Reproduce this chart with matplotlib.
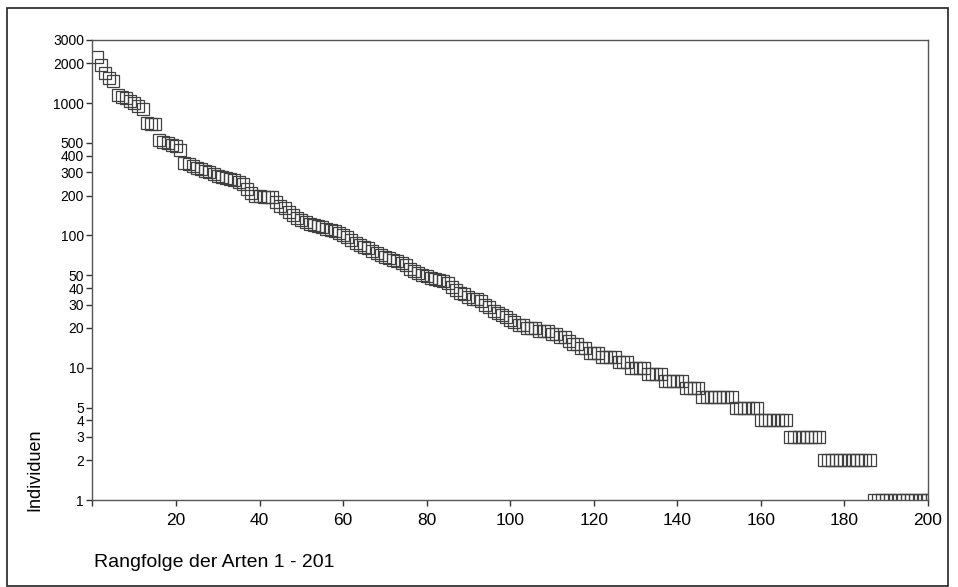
import matplotlib
matplotlib.use('Agg')
import matplotlib.pyplot as plt
from matplotlib.patches import Rectangle

plt.rcParams['font.family'] = ['Liberation Sans', 'DejaVu Sans']

# Individuen je Art, nach Rang geordnet (Rang 1 - 201)
individuen = [
    2250, 1950, 1700, 1550, 1480, 1150, 1120, 1090, 1040, 1000,
    950, 900, 710, 700, 690, 530, 510, 500, 480, 470,
    440, 355, 345, 335, 325, 315, 305, 300, 290, 282,
    275, 270, 265, 262, 255, 245, 225, 210, 200, 198,
    196, 195, 194, 180, 168, 160, 150, 142, 136, 130,
    126, 122, 120, 118, 115, 112, 110, 108, 105, 100,
    97, 92, 88, 84, 82, 80, 76, 73, 71, 69,
    67, 65, 64, 62, 60, 56, 54, 52, 50, 49,
    48, 47, 46, 45, 44, 41, 39, 37, 36, 34,
    33, 33, 32, 30, 29, 27, 26, 25, 24, 23,
    22, 21, 21, 20, 20, 20, 19, 19, 19, 18,
    18, 17, 17, 16, 15, 15, 14, 14, 13, 13,
    13, 12, 12, 12, 12, 11, 11, 11, 10, 10,
    10, 10, 9, 9, 9, 9, 8, 8, 8, 8,
    8, 7, 7, 7, 7, 6, 6, 6, 6, 6,
    6, 6, 6, 5, 5, 5, 5, 5, 5, 4,
    4, 4, 4, 4, 4, 4, 3, 3, 3, 3,
    3, 3, 3, 3, 2, 2, 2, 2, 2, 2,
    2, 2, 2, 2, 2, 2, 1, 1, 1, 1,
    1, 1, 1, 1, 1, 1, 1, 1, 1, 1,
    1,
]
rang = list(range(1, len(individuen) + 1))

y_ticks = [1, 2, 3, 4, 5, 10, 20, 30, 40, 50, 100, 200, 300, 400, 500, 1000, 2000, 3000]
x_ticks = [0, 20, 40, 60, 80, 100, 120, 140, 160, 180, 200]
x_labels = ['', '20', '40', '60', '80', '100', '120', '140', '160', '180', '200']

fig = plt.figure(figsize=(9.58, 5.87), dpi=100)
ax = fig.add_axes([0.0965, 0.1482, 0.8722, 0.7837])

ax.plot(rang, individuen, linestyle='none', marker='s', markersize=9.2,
        markerfacecolor='none', markeredgecolor='#404040', markeredgewidth=0.9)

ax.set_yscale('log')
ax.set_ylim(1, 3000)
ax.set_xlim(0, 200)
ax.set_yticks(y_ticks)
ax.set_yticklabels([str(t) for t in y_ticks], fontsize=10)
ax.yaxis.set_minor_locator(matplotlib.ticker.NullLocator())
ax.set_xticks(x_ticks)
ax.set_xticklabels(x_labels, fontsize=12.5)
ax.tick_params(axis='both', direction='out', length=4, width=1, color='#333333')
ax.tick_params(axis='y', pad=2)
ax.tick_params(axis='x', pad=5)
for s in ax.spines.values():
    s.set_color('#555555')
    s.set_linewidth(1)

fig.text(0.098, 0.041, 'Rangfolge der Arten 1 - 201', fontsize=14, ha='left', va='center')
fig.text(0.036, 0.13, 'Individuen', fontsize=13, rotation=90, ha='center', va='bottom')

# Rahmen um die ganze Abbildung
fig.patches.append(Rectangle((7 / 958, 1 - 586 / 587), 941 / 958, 578 / 587,
                             transform=fig.transFigure, fill=False,
                             edgecolor='#222222', linewidth=1.2))

fig.savefig('out.png', dpi=100)
